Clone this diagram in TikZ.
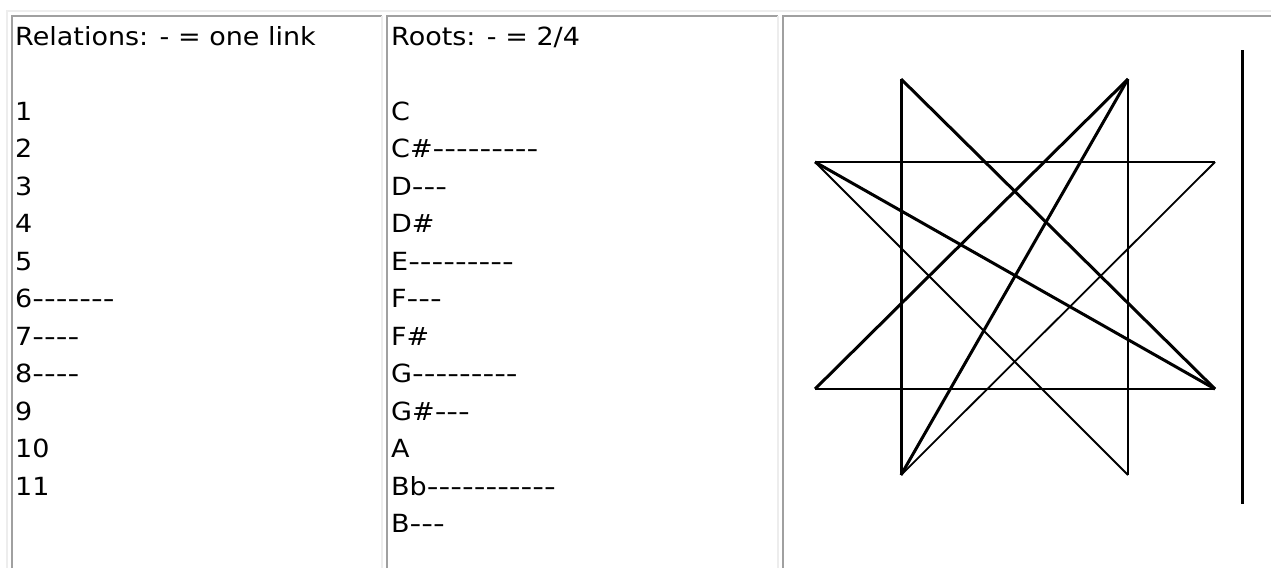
\documentclass[tikz,border=0pt]{standalone}
\usepackage{fontspec}
\setmainfont[FakeStretch=1.08, Ligatures=TeXOff]{DejaVu Sans}
\newfontfamily\dashfont[FakeStretch=1.3, Ligatures=TeXOff]{DejaVu Sans}
\usetikzlibrary{positioning}
\definecolor{EdgeDark}{HTML}{A0A0A0}
\definecolor{EdgeLight}{HTML}{EDEDED}

\begin{document}
\begin{tikzpicture}[x=1pt, y=-1pt,
    dkedge/.style={draw=EdgeDark, line width=2pt},
    ltedge/.style={draw=EdgeLight, line width=2pt},
    row/.style={anchor=base west, inner sep=0pt, font=\fontsize{25}{30}\selectfont},
    thinln/.style={line width=1.8pt, black},
    thickln/.style={line width=3pt, black}
  ]
  \useasboundingbox (0,0) rectangle (1271,568);

  % table and cell edges
  \draw[ltedge] (7,568) -- (7,11) -- (1271,11);
  \draw[dkedge] (12,568) -- (12,16.3) -- (382,16.3);
  \draw[ltedge] (382.3,16.3) -- (382.3,568);
  \draw[dkedge] (387,568) -- (387,16.3) -- (778,16.3);
  \draw[ltedge] (778.3,16.3) -- (778.3,568);
  \draw[dkedge] (783.3,568) -- (783.3,16.3) -- (1271,16.3);

  % relations column
  \node[row] (relhead) at (15,45) {Relations: - = one link};
  \foreach \nm/\dsh [count=\i] in {1/{},2/{},3/{},4/{},5/{},6/-------,7/----,8/----,9/{},10/{},11/{}}
    \node[row] (rel\i) at (15,{45+(\i+1)*37.5}) {\nm{\dashfont\dsh}};

  % roots column
  \node[row] (roothead) at (391,45) {Roots: - = 2/4};
  \foreach \nm/\dsh [count=\i] in {C/{},C\#/---------,D/---,D\#/{},E/---------,F/---,F\#/{},G/---------,G\#/---,A/{},Bb/-----------,B/---}
    \node[row] (root\i) at (391,{45+(\i+1)*37.5}) {\nm{\dashfont\dsh}};

  % star
  \coordinate (topL) at (901,79);
  \coordinate (topR) at (1128,79);
  \coordinate (midL) at (815,162);
  \coordinate (midR) at (1215,162);
  \coordinate (lowL) at (815,389);
  \coordinate (lowR) at (1215,389);
  \coordinate (botL) at (901,475);
  \coordinate (botR) at (1128,475);
  \draw[thinln] (topR) -- (botR);
  \draw[thinln] (midL) -- (midR);
  \draw[thinln] (lowL) -- (lowR);
  \draw[thinln] (midL) -- (botR);
  \draw[thinln] (midR) -- (botL);
  \draw[thickln] (topL) -- (botL);
  \draw[thickln] (topL) -- (lowR);
  \draw[thickln] (topR) -- (lowL);
  \draw[thickln] (topR) -- (botL);
  \draw[thickln] (midL) -- (lowR);

  % side bar
  \coordinate (barT) at (1242.5,50);
  \coordinate (barB) at (1242.5,504);
  \draw[line width=2.2pt] (barT) -- (barB);
\end{tikzpicture}
\end{document}
